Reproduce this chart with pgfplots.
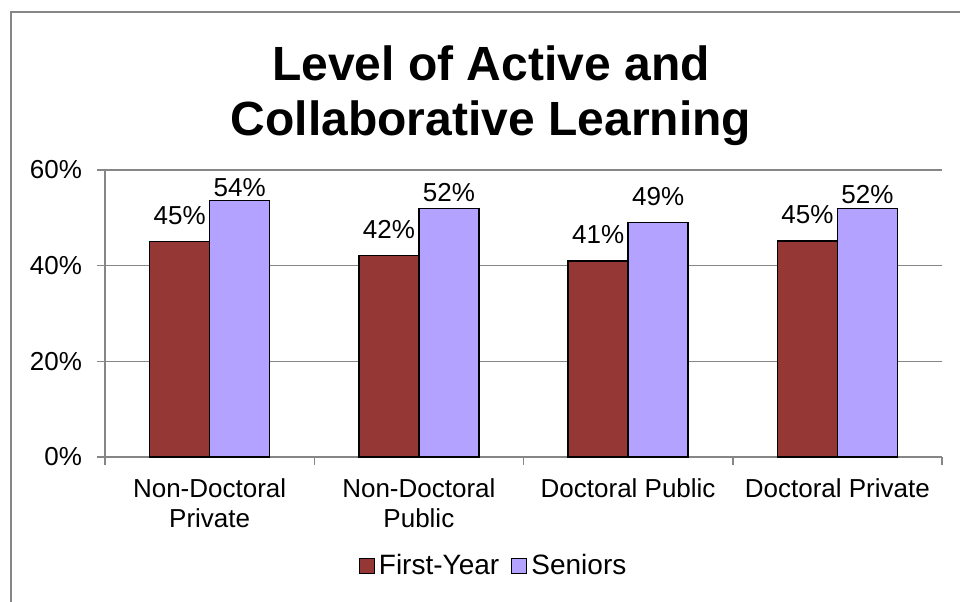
\documentclass[border=0pt]{standalone}
\usepackage{pgfplots}
\pgfplotsset{compat=1.18}
\usepackage{pgfplotstable}
\usepackage{fontspec}
\setmainfont{Liberation Sans}
\definecolor{fy}{HTML}{953735}
\definecolor{sen}{HTML}{B3A2FF}
\definecolor{gridgray}{HTML}{868686}

\pgfplotstableread{
x y lab dy
0 45.1 45 8.6
1 42.1 42 8.6
2 41.0 41 8.6
3 45.2 45 8.6
}\fydata
\pgfplotstableread{
x y lab dy
0 53.6 54 2.0
1 52.0 52 3.3
2 49.0 49 8.6
3 52.0 52 2.5
}\sendata

\begin{document}
\begin{tikzpicture}
\begin{scope}[x=0.5pt,y=-0.5pt]
\useasboundingbox (0,0) rectangle (960,601);
\draw[gridgray, line width=0.75pt] (11,610) -- (11,12) -- (970,12);
\node[anchor=base, font=\bfseries\fontsize{24}{28}\selectfont, inner sep=0pt] at (491,80) {Level of Active and};
\node[anchor=base, font=\bfseries\fontsize{24}{28}\selectfont, inner sep=0pt] at (491,135) {Collaborative Learning};
\end{scope}
\begin{axis}[
  at={(52.5pt,-228.5pt)}, anchor=south west,
  width=418.5pt, height=143.5pt, scale only axis,
  ymin=0, ymax=60, xmin=-0.5, xmax=3.5,
  ybar=0pt, bar width=30pt,
  axis x line*=bottom, axis y line*=left,
  axis line style={gridgray, line width=0.75pt},
  ytick={0,20,40,60}, yticklabels={0\%,20\%,40\%,60\%},
  xtick={-0.5,0.5,1.5,2.5,3.5},
  xticklabels={{Non-Doctoral\\Private},{Non-Doctoral\\Public},{Doctoral Public},{Doctoral Private}},
  x tick label as interval,
  ymajorgrids, xmajorgrids=false,
  grid style={gridgray, line width=0.75pt},
  tick align=outside, major tick length=4pt,
  tick style={gridgray, line width=0.75pt},
  ticklabel style={font=\fontsize{13}{15}\selectfont},
  xticklabel style={align=center, yshift=-3.5pt},
  yticklabel style={xshift=-4pt},
  nodes near coords={\pgfplotspointmeta\%},
  point meta=explicit symbolic,
  visualization depends on={\thisrow{dy}\as\dy},
  nodes near coords style={anchor=base, yshift=\dy pt, inner sep=0pt, font=\fontsize{13}{15}\selectfont, text=black},
  legend style={at={(0.4654,-0.3798)}, anchor=center, draw=none, legend columns=2,
    font=\fontsize{14}{16}\selectfont,
    nodes={inner xsep=2pt},
    /tikz/every even column/.append style={column sep=4pt}},
  legend image code/.code={\draw[#1, draw=black, line width=0.6pt] (0pt,-3.75pt) rectangle (7.5pt,3.75pt);},
]
\addplot[fill=fy, draw=black, line width=0.75pt] table[x=x, y=y, meta=lab] {\fydata};
\addplot[fill=sen, draw=black, line width=0.75pt] table[x=x, y=y, meta=lab] {\sendata};
\legend{First-Year, Seniors}
\end{axis}
\end{tikzpicture}
\end{document}
